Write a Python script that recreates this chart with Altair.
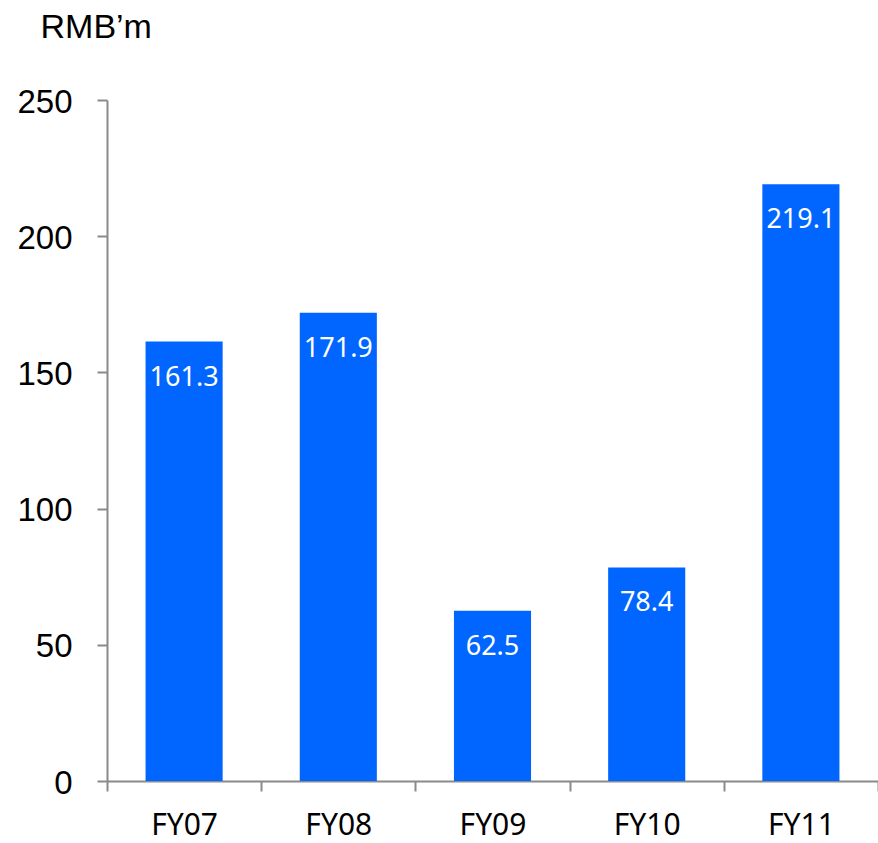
import altair as alt
import pandas as pd

years = ["FY07", "FY08", "FY09", "FY10", "FY11"]
values = [161.3, 171.9, 62.5, 78.4, 219.1]
labels = ["161.3", "171.9", "62.5", "78.4", "219.1"]
y_ticks = [0, 50, 100, 150, 200, 250]

df = pd.DataFrame({"year": years, "value": values, "label": labels})

AXIS_GRAY = "#8a8a8a"
BLUE = "#0066FF"

x_enc = alt.X(
    "year:N",
    sort=years,
    scale=alt.Scale(paddingInner=0, paddingOuter=0),
    axis=alt.Axis(
        title=None,
        labelAngle=0,
        labelFont="Noto Sans",
        labelFontSize=30,
        labelColor="#000000",
        labelPadding=19,
        labelBaseline="top",
        tickBand="extent",
        tickSize=10,
        tickWidth=2,
        tickColor=AXIS_GRAY,
        domainColor=AXIS_GRAY,
        domainWidth=2,
        grid=False,
    ),
)

y_enc = alt.Y(
    "value:Q",
    scale=alt.Scale(domain=[0, 250], nice=False, zero=True),
    axis=alt.Axis(
        title="RMB’m",
        titleAngle=0,
        titleX=-67,
        titleY=-63,
        titleAlign="left",
        titleBaseline="alphabetic",
        titleFont="Liberation Sans",
        titleFontSize=34,
        titleFontWeight="normal",
        titleColor="#000000",
        values=y_ticks,
        labelFont="Liberation Sans",
        labelFontSize=33,
        labelColor="#000000",
        labelPadding=25,
        labelOffset=2,
        tickSize=10,
        tickWidth=2,
        tickColor=AXIS_GRAY,
        domainColor=AXIS_GRAY,
        domainWidth=2,
        grid=False,
    ),
)

bars = alt.Chart(df).mark_bar(
    color=BLUE, width=alt.RelativeBandSize(0.5)
).encode(x=x_enc, y=y_enc)

text = alt.Chart(df).mark_text(
    color="white",
    font="Noto Sans",
    fontSize=27,
    baseline="alphabetic",
    align="center",
    dy=44,
).encode(x=alt.X("year:N", sort=years), y=alt.Y("value:Q"), text="label:N")

chart = (
    alt.layer(bars, text)
    .properties(
        width=771,
        height=681,
        autosize=alt.AutoSizeParams(type="none"),
        padding={"left": 107, "top": 100, "right": 0, "bottom": 62},
        background="white",
    )
    .configure_view(stroke=None)
)

chart.save("out.html", embed_options={"renderer": "svg", "actions": False})
